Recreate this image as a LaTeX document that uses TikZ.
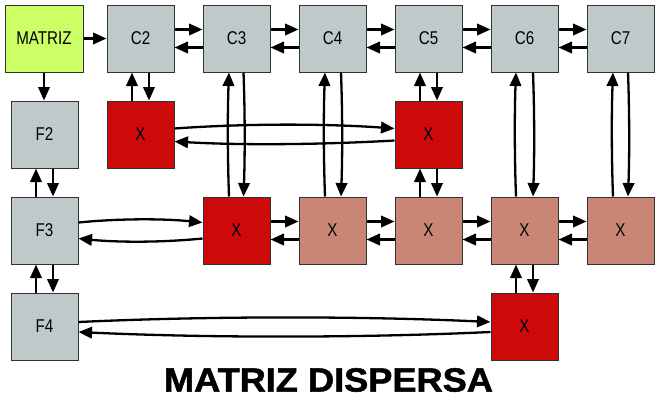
\documentclass[tikz,border=0pt]{standalone}
\usepackage{fontspec}
\usetikzlibrary{arrows.meta}
\newfontfamily\narrowfont{Liberation Sans}[FakeStretch=0.82]
\newfontfamily\titlefont{Liberation Sans Bold}[FakeStretch=1.08,FakeBold=1.5]
\definecolor{boxgray}{HTML}{C0C9C9}
\definecolor{boxred}{HTML}{CC0A0A}
\definecolor{boxsalmon}{HTML}{C98676}
\definecolor{boxgreen}{HTML}{CCFF66}
\definecolor{bordergray}{HTML}{333333}
\tikzset{
 box/.style={draw=bordergray, line width=1pt, minimum width=67pt, minimum height=67pt, inner sep=0pt, font=\narrowfont\fontsize{18.5}{21}\selectfont},
 gbox/.style={box, fill=boxgray},
 rbox/.style={box, fill=boxred},
 sbox/.style={box, fill=boxsalmon},
 arr/.style={-{Triangle[length=13.5pt,width=11.5pt]}, line width=2.3pt},
}
\begin{document}
\begin{tikzpicture}[x=1pt,y=-1pt]
\useasboundingbox (0,0) rectangle (659,413);
% nodes
\node[box, fill=boxgreen, minimum width=78pt] (M) at (44,38.5) {MATRIZ};
\node[gbox] (C2) at (140.5,38.5) {C2};
\node[gbox] (C3) at (236.5,38.5) {C3};
\node[gbox] (C4) at (332.5,38.5) {C4};
\node[gbox] (C5) at (428.5,38.5) {C5};
\node[gbox] (C6) at (524.5,38.5) {C6};
\node[gbox] (C7) at (620.5,38.5) {C7};
\node[gbox] (F2) at (44.5,134.5) {F2};
\node[gbox] (F3) at (44.5,230.5) {F3};
\node[gbox] (F4) at (44.5,326.5) {F4};
\node[rbox] (X12) at (140.5,134.5) {X};
\node[rbox] (X15) at (428.5,134.5) {X};
\node[rbox] (X23) at (236.5,230.5) {X};
\node[sbox] (X24) at (332.5,230.5) {X};
\node[sbox] (X25) at (428.5,230.5) {X};
\node[sbox] (X26) at (524.5,230.5) {X};
\node[sbox] (X27) at (620.5,230.5) {X};
\node[rbox] (X36) at (524.5,326.5) {X};
% header links
\draw[arr] (M.east) -- (C2.west);
\draw[arr] (M.south) -- (M.south |- F2.north);
\foreach \a/\b in {C2/C3,C3/C4,C4/C5,C5/C6,C6/C7,X23/X24,X24/X25,X25/X26,X26/X27}{
  \draw[arr] ([shift={(0,-9)}]\a.east) -- ([shift={(0,-9)}]\b.west);
  \draw[arr] ([shift={(0,9)}]\b.west) -- ([shift={(0,9)}]\a.east);
}
% short vertical pairs
\foreach \a/\b in {C2/X12,C5/X15,X15/X25,X26/X36,F2/F3,F3/F4}{
  \draw[arr] ([shift={(8.5,0)}]\a.south) -- ([shift={(8.5,0)}]\b.north);
  \draw[arr] ([shift={(-8.5,0)}]\b.north) -- ([shift={(-8.5,0)}]\a.south);
}
% long vertical pairs
\foreach \a/\b/\d/\u in {C3/X23/7/7.5,C4/X24/8.5/7.5,C6/X26/8.5/8.5,C7/X27/7.5/7.5}{
  \draw[arr] ([shift={(\d,0)}]\a.south) .. controls +(1.5,40) and +(1.5,-40) .. ([shift={(\d,0)}]\b.north);
  \draw[arr] ([shift={(-\u,0)}]\b.north) .. controls +(-1.5,-40) and +(-1.5,40) .. ([shift={(-\u,0)}]\a.south);
}
% long horizontal pairs
\draw[arr] ([shift={(0,-6)}]X12.east) .. controls +(70,-5) and +(-70,-5) .. ([shift={(0,-6)}]X15.west);
\draw[arr] ([shift={(0,6)}]X15.west) .. controls +(-70,4) and +(70,4) .. ([shift={(0,7)}]X12.east);
\draw[arr] ([shift={(0,-8)}]F3.east) .. controls +(40,-4) and +(-40,-4) .. ([shift={(0,-8)}]X23.west);
\draw[arr] ([shift={(0,8)}]X23.west) .. controls +(-40,4) and +(40,4) .. ([shift={(0,8)}]F3.east);
\draw[arr] ([shift={(0,-4.5)}]F4.east) .. controls +(130,-6) and +(-130,-6) .. ([shift={(0,-4.5)}]X36.west);
\draw[arr] ([shift={(0,5.5)}]X36.west) .. controls +(-130,6) and +(130,6) .. ([shift={(0,5.5)}]F4.east);
% title
\node[inner sep=0pt, font=\titlefont\fontsize{33.5}{40}\selectfont] (T) at (328.5,380) {MATRIZ DISPERSA};
\end{tikzpicture}
\end{document}
